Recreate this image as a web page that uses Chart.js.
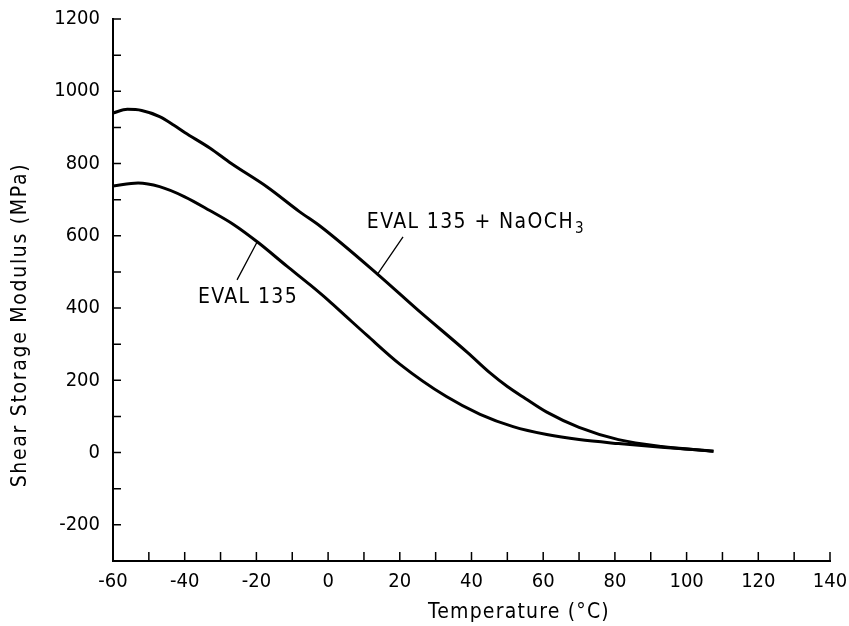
<!DOCTYPE html>
<html>
<head>
<meta charset="utf-8">
<script src="https://cdn.jsdelivr.net/npm/chart.js@4.4.0/dist/chart.umd.min.js"></script>
<style>
  html, body { margin: 0; padding: 0; background: #fff; }
</style>
</head>
<body>
<canvas id="modulusChart" width="849" height="626"></canvas>
<script>
// EVAL 135 + NaOCH3 (upper curve)
const naTemps   = [-60, -56, -52, -47, -43, -40, -33, -27, -17, -8, -2, 14, 25, 39, 45, 50, 55, 61, 70, 81, 93, 107.5];
const naModulus = [940, 950, 947, 930, 906, 886, 843, 800, 735, 667, 625, 492, 395, 276, 222, 183, 150, 112, 70, 36, 17, 4];

// EVAL 135 (lower curve)
const evalTemps   = [-60, -53, -47, -40, -33, -26.5, -19.6, -11.5, -5, 0, 5, 10.8, 20, 33, 42.4, 51.6, 61, 70, 81, 93, 107.5];
const evalModulus = [738, 746, 736, 708, 670, 632, 582, 516, 464, 422, 377, 325, 245, 155, 106, 72, 50, 36, 25, 15, 4];

// tick labels that are printed (other ticks are unlabelled minor marks)
const xTickLabels = [-60, -40, -20, 0, 20, 40, 60, 80, 100, 120, 140];
const yTickLabels = [-200, 0, 200, 400, 600, 800, 1000, 1200];

const FONT = "'DejaVu Sans Condensed', 'DejaVu Sans', sans-serif";

function toPoints(xs, ys) {
  return xs.map((x, i) => ({ x: x, y: ys[i] }));
}

// tick marks point into the plot, and the curve labels / axis titles
const figureExtras = {
  id: 'figureExtras',
  afterDraw(chart) {
    const { ctx, chartArea, scales: { x, y } } = chart;
    ctx.save();
    ctx.strokeStyle = '#000';
    ctx.fillStyle = '#000';

    // inward ticks
    ctx.lineWidth = 1.5;
    ctx.beginPath();
    x.ticks.forEach(t => {
      const px = x.getPixelForValue(t.value);
      ctx.moveTo(px, chartArea.bottom);
      ctx.lineTo(px, chartArea.bottom - 9);
    });
    y.ticks.forEach(t => {
      const py = y.getPixelForValue(t.value);
      ctx.moveTo(chartArea.left, py);
      ctx.lineTo(chartArea.left + 8, py);
    });
    ctx.stroke();

    // leader lines
    ctx.lineWidth = 1.3;
    ctx.beginPath();
    ctx.moveTo(x.getPixelForValue(-19.8), y.getPixelForValue(583));
    ctx.lineTo(x.getPixelForValue(-25.4), y.getPixelForValue(478));
    ctx.moveTo(x.getPixelForValue(20.9), y.getPixelForValue(597));
    ctx.lineTo(x.getPixelForValue(13.6), y.getPixelForValue(491));
    ctx.stroke();

    // curve labels
    ctx.font = '21px ' + FONT;
    ctx.letterSpacing = '1.4px';
    ctx.textBaseline = 'middle';
    ctx.textAlign = 'left';
    ctx.fillText('EVAL 135', x.getPixelForValue(-36.3), y.getPixelForValue(428));
    const lx = x.getPixelForValue(10.8), ly = y.getPixelForValue(638);
    const main = 'EVAL 135 + NaOCH';
    ctx.fillText(main, lx, ly);
    const w = ctx.measureText(main).width;
    ctx.font = '15px ' + FONT;
    ctx.fillText('3', lx + w + 1, ly + 7);

    // axis titles
    ctx.font = '21px ' + FONT;
    ctx.letterSpacing = '1.2px';
    ctx.textAlign = 'center';
    ctx.fillText('Temperature (°C)', chartArea.left + 406, chartArea.bottom + 52);
    ctx.letterSpacing = '1.7px';
    ctx.translate(21, chartArea.top + 306);
    ctx.rotate(-Math.PI / 2);
    ctx.fillText('Shear Storage Modulus (MPa)', 0, 0);
    ctx.restore();
  }
};

new Chart(document.getElementById('modulusChart'), {
  type: 'line',
  data: {
    datasets: [
      {
        label: 'EVAL 135 + NaOCH3',
        data: toPoints(naTemps, naModulus),
        borderColor: '#000',
        borderWidth: 3,
        pointRadius: 0,
        cubicInterpolationMode: 'monotone',
        fill: false,
      },
      {
        label: 'EVAL 135',
        data: toPoints(evalTemps, evalModulus),
        borderColor: '#000',
        borderWidth: 3,
        pointRadius: 0,
        cubicInterpolationMode: 'monotone',
        fill: false,
      },
    ],
  },
  options: {
    responsive: false,
    animation: false,
    layout: { padding: { top: 19, right: 19, left: 0, bottom: 0 } },
    plugins: {
      legend: { display: false },
      tooltip: { enabled: false },
    },
    scales: {
      x: {
        type: 'linear',
        min: -60,
        max: 140,
        grid: { display: false, drawTicks: false },
        border: { display: true, color: '#000', width: 2 },
        ticks: {
          stepSize: 10,
          autoSkip: false,
          maxRotation: 0,
          padding: 9,
          color: '#000',
          font: { family: FONT, size: 20 },
          callback: v => (xTickLabels.includes(v) ? v : ''),
        },
        afterFit: s => { s.height = 65; s.paddingLeft = 0; s.paddingRight = 0; },
      },
      y: {
        type: 'linear',
        min: -300,
        max: 1200,
        grid: { display: false, drawTicks: false },
        border: { display: true, color: '#000', width: 2 },
        ticks: {
          stepSize: 100,
          autoSkip: false,
          padding: 13,
          color: '#000',
          font: { family: FONT, size: 20 },
          callback: v => (yTickLabels.includes(v) ? v : ''),
        },
        afterFit: s => { s.width = 113; s.paddingTop = 0; s.paddingBottom = 0; },
      },
    },
  },
  plugins: [figureExtras],
});
</script>
</body>
</html>
